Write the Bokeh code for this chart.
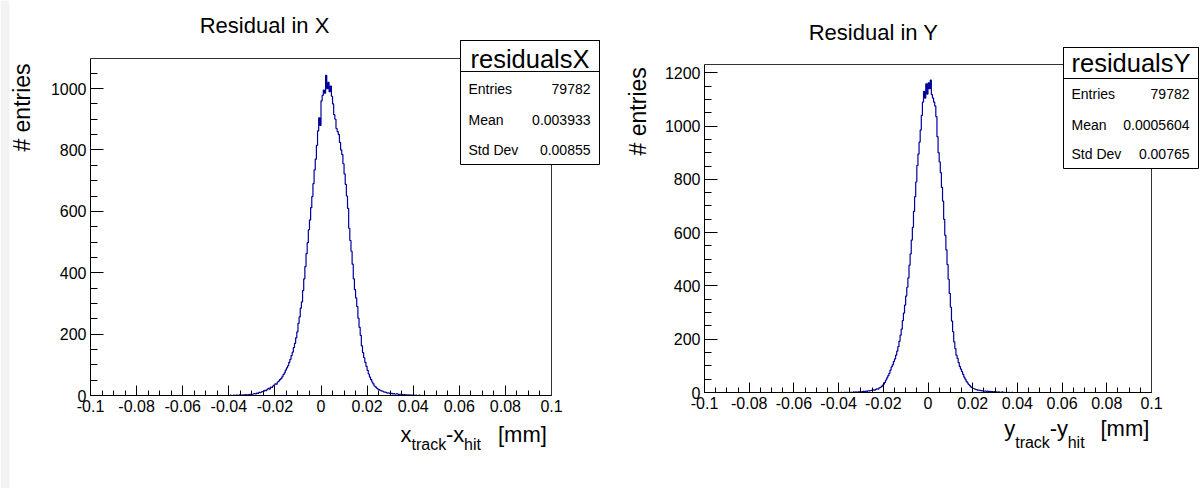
import math
from bokeh.plotting import figure
from bokeh.models import FixedTicker, Label, BoxAnnotation, LinearAxis, Range1d
from bokeh.embed import file_html
from bokeh.resources import INLINE

FONT = "Liberation Sans"
HIST_COLOR = "#000099"
W, H = 1200, 488

# ---------------- data ----------------
bin_width = 0.0005
first_edge = -0.04          # left edge of first listed bin
x_min, x_max = -0.1, 0.1

x_ticks = [-0.1, -0.08, -0.06, -0.04, -0.02, 0, 0.02, 0.04, 0.06, 0.08, 0.1]
x_tick_labels = ["-0.1", "-0.08", "-0.06", "-0.04", "-0.02", "0",
                 "0.02", "0.04", "0.06", "0.08", "0.1"]
y_ticks_x = [0, 200, 400, 600, 800, 1000]
y_ticks_y = [0, 200, 400, 600, 800, 1000, 1200]

counts_x = [
    0, 1, 0, 0, 1, 0, 1, 1, 0, 2,
    1, 1, 2, 1, 3, 2, 2, 3, 4, 3,
    4, 5, 6, 5, 8, 7, 10, 9, 12, 13,
    14, 17, 16, 20, 23, 21, 27, 26, 31, 34,
    38, 37, 44, 47, 52, 55, 61, 68, 74, 83,
    90, 97, 108, 118, 130, 141, 156, 170, 188, 207,
    235, 256, 285, 305, 342, 380, 420, 462, 498, 540,
    572, 612, 648, 690, 735, 770, 815, 862, 905, 880,
    960, 978, 995, 985, 1043, 1000, 1020, 990, 1008, 975,
    950, 915, 900, 870, 860, 850, 825, 800, 785, 755,
    722, 688, 650, 610, 545, 505, 470, 428, 380, 345,
    318, 290, 252, 222, 196, 162, 140, 123, 108, 95,
    82, 70, 60, 52, 44, 38, 31, 28, 24, 21,
    19, 17, 15, 14, 12, 11, 10, 8, 9, 7,
    6, 7, 5, 6, 4, 5, 5, 3, 4, 4,
    3, 2, 3, 2, 2, 1, 2, 1, 1, 1,
    1, 0, 1, 0, 0, 1, 0, 0, 0, 0,
]

counts_y = [
    0, 0, 1, 0, 0, 1, 0, 1, 0, 1,
    1, 1, 0, 2, 1, 2, 1, 2, 2, 3,
    2, 3, 4, 3, 5, 4, 6, 6, 7, 8,
    8, 10, 9, 12, 14, 13, 17, 19, 22, 27,
    31, 38, 47, 55, 63, 72, 84, 96, 104, 116,
    126, 140, 155, 172, 192, 215, 238, 270, 298, 328,
    362, 395, 430, 478, 520, 572, 620, 680, 735, 790,
    852, 895, 940, 985, 1040, 1090, 1130, 1105, 1158, 1120,
    1162, 1140, 1172, 1118, 1105, 1090, 1075, 1035, 960, 900,
    865, 825, 770, 718, 650, 590, 535, 480, 425, 372,
    320, 268, 228, 190, 165, 140, 128, 112, 98, 88,
    78, 68, 58, 50, 42, 36, 30, 26, 21, 18,
    15, 14, 12, 11, 9, 9, 8, 7, 6, 6,
    5, 5, 4, 5, 3, 4, 3, 3, 2, 3,
    2, 2, 1, 2, 1, 1, 2, 1, 1, 0,
    1, 0, 1, 0, 0, 1, 0, 0, 0, 0,
    0, 0, 0, 0, 0, 0, 0, 0, 0, 0,
]

titles = ["Residual in X", "Residual in Y"]
hist_names = ["residualsX", "residualsY"]
stat_names = ["Entries", "Mean", "Std Dev"]
stat_values_x = ["79782", "0.003933", "0.00855"]
stat_values_y = ["79782", "0.0005604", "0.00765"]
y_axis_title = "# entries"
x_axis_vars = ["x", "y"]
y_max_x = 1098
y_max_y = 1231

# ---------------- figure (canvas coordinates = pixels, y up) ----------------
p = figure(width=W, height=H, x_range=Range1d(0, W), y_range=Range1d(0, H),
           x_axis_type=None, y_axis_type=None,
           output_backend="svg", toolbar_location=None,
           min_border_left=0, min_border_right=0,
           min_border_top=0, min_border_bottom=0)
p.outline_line_color = None
p.background_fill_color = "white"
p.border_fill_color = "white"

# light grey strip at the far left of the picture
p.add_layout(BoxAnnotation(left=0, right=9, bottom=0, top=H, level="underlay",
                           fill_color="#f3f3f3", fill_alpha=1.0, line_alpha=0.0))


def lab(px, py, text, size, align="left", angle=0.0):
    # py is the visual middle of the text line (pixels from top)
    p.add_layout(Label(x=px, y=H - py, text=text,
                       text_font=FONT, text_font_size=f"{size}px",
                       text_align=align, text_baseline="middle",
                       text_color="black", angle=angle))


def add_panel(key, counts, y_max, y_ticks, title, name, stat_vals, var, g):
    fl, fr, ft, fb = g["fl"], g["fr"], g["ft"], g["fb"]
    ppu_x = (fr - fl) / (x_max - x_min)
    ppu_y = (fb - ft) / y_max
    xn, yn = "x" + key, "y" + key
    p.extra_x_ranges[xn] = Range1d(x_min - fl / ppu_x, x_min + (W - fl) / ppu_x)
    p.extra_y_ranges[yn] = Range1d(-(H - fb) / ppu_y, fb / ppu_y)

    minor_x = [round(-0.1 + i * 0.005, 4) for i in range(41)]
    minor_y = list(range(0, int(y_max) + 1, 50))

    xa = LinearAxis(x_range_name=xn, y_range_name=yn, fixed_location=0,
                    bounds=(x_min, x_max),
                    ticker=FixedTicker(ticks=x_ticks, minor_ticks=minor_x))
    xa.major_label_overrides = {t: l for t, l in zip(x_ticks, x_tick_labels)}
    ya = LinearAxis(x_range_name=xn, y_range_name=yn, fixed_location=x_min,
                    bounds=(0, y_max),
                    ticker=FixedTicker(ticks=y_ticks, minor_ticks=minor_y))
    for ax in (xa, ya):
        ax.axis_line_color = "black"
        ax.major_tick_line_color = "black"
        ax.minor_tick_line_color = "black"
        ax.major_tick_out = 0
        ax.minor_tick_out = 0
        ax.major_label_text_font = FONT
        ax.major_label_text_font_size = "16px"
        ax.major_label_text_color = "black"
        ax.major_label_standoff = 4
    xa.major_tick_in = 10
    xa.minor_tick_in = 5
    ya.major_tick_in = 13
    ya.minor_tick_in = 7
    p.add_layout(xa, "below")
    p.add_layout(ya, "left")

    # remaining two sides of the frame
    ta = LinearAxis(x_range_name=xn, y_range_name=yn, fixed_location=y_max,
                    bounds=(x_min, x_max), ticker=FixedTicker(ticks=[]),
                    axis_line_color="#333333", major_label_text_font_size="0px")
    ra = LinearAxis(x_range_name=xn, y_range_name=yn, fixed_location=x_max,
                    bounds=(0, y_max), ticker=FixedTicker(ticks=[]),
                    axis_line_color="#333333", major_label_text_font_size="0px")
    p.add_layout(ta, "above")
    p.add_layout(ra, "right")

    # histogram outline
    n = len(counts)
    edges = [first_edge + i * bin_width for i in range(n + 1)]
    xs = [x_min] + edges + [x_max]
    ys = [0] + list(counts) + [0, 0]
    p.step(xs, ys, mode="after", line_color=HIST_COLOR, line_width=1.2,
           x_range_name=xn, y_range_name=yn)

    # title and axis titles
    lab(g["title_cx"], g["title_mid"], title, 22, align="center")
    lab(g["ylab_mid"], g["ylab_cy"], y_axis_title, 23, align="center",
        angle=math.pi / 2)
    mb, sb, x0 = g["xlab_main"], g["xlab_sub"], g["xlab_x0"]
    lab(x0, mb, var, 22)
    lab(x0 + 11, sb, "track", 16)
    lab(x0 + 45.5, mb, "-" + var, 22)
    lab(x0 + 63.5, sb, "hit", 16)
    lab(g["mm_x"], mb, "[mm]", 22)

    # stats box
    bl, br, bt, bb, bsep = g["box"]
    p.add_layout(BoxAnnotation(left=bl, right=br, top=H - bt, bottom=H - bb,
                               fill_color="white", fill_alpha=1.0,
                               line_color="black", line_alpha=1.0, line_width=1))
    p.add_layout(BoxAnnotation(left=bl, right=br, top=H - bt, bottom=H - bsep,
                               fill_alpha=0.0, line_color="black", line_alpha=1.0,
                               line_width=1))
    lab((bl + br) / 2, g["name_mid"], name, 25.5, align="center")
    for i, (nm, vl) in enumerate(zip(stat_names, stat_vals)):
        lab(bl + 8, g["rows"][i], nm, 14)
        lab(br - 9, g["rows"][i], vl, 14, align="right")


geom_x = dict(fl=90, fr=551, ft=58, fb=395,
              title_cx=264, title_mid=24.5,
              ylab_mid=21, ylab_cy=107,
              xlab_x0=400, xlab_main=434, xlab_sub=444.4, mm_x=497.5,
              box=(460, 599, 40, 164, 71), name_mid=58,
              rows=[88, 119.3, 149])
geom_y = dict(fl=704, fr=1151, ft=64, fb=392,
              title_cx=873, title_mid=32,
              ylab_mid=637, ylab_cy=110.8,
              xlab_x0=1003.7, xlab_main=428, xlab_sub=442, mm_x=1100,
              box=(1063, 1198, 47, 168, 78), name_mid=62.5,
              rows=[93.3, 124, 153.3])

add_panel("l", counts_x, y_max_x, y_ticks_x, titles[0], hist_names[0],
          stat_values_x, x_axis_vars[0], geom_x)
add_panel("r", counts_y, y_max_y, y_ticks_y, titles[1], hist_names[1],
          stat_values_y, x_axis_vars[1], geom_y)

open("out.html", "w").write(file_html(p, INLINE))
